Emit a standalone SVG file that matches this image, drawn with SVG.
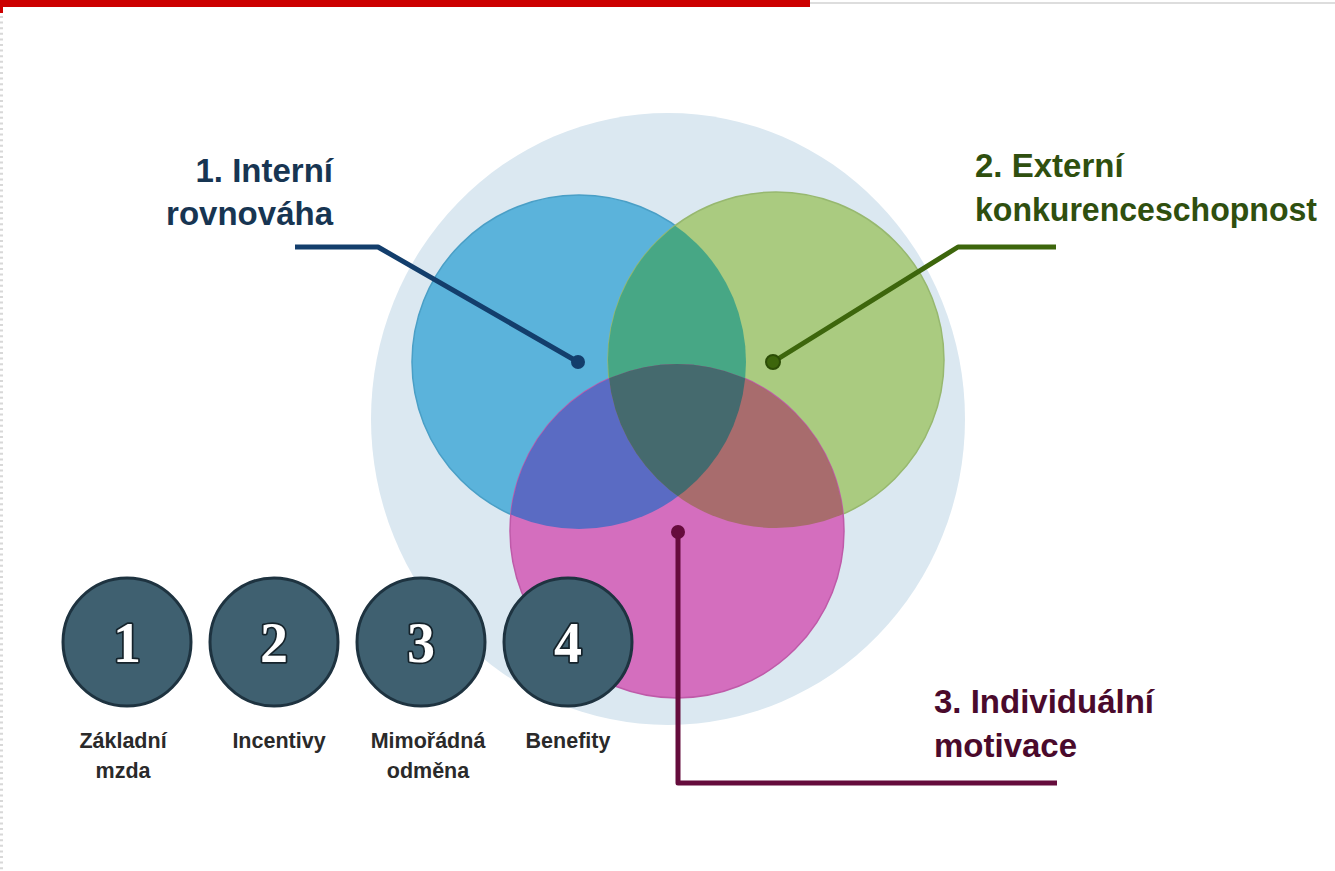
<svg xmlns="http://www.w3.org/2000/svg" width="1335" height="871" viewBox="0 0 1335 871">
<style>
.lbl{font-family:"Liberation Sans",Arial,sans-serif;font-weight:bold;font-size:33px}
.sub{font-family:"Liberation Sans",Arial,sans-serif;font-weight:bold;font-size:21.5px;fill:#2a2a2a;text-anchor:middle}
.num{font-family:"Liberation Serif","Times New Roman",serif;font-weight:bold;font-size:56px;fill:#ffffff;stroke:#15232b;stroke-width:3.5;paint-order:stroke;stroke-linejoin:round;text-anchor:middle}
.badge{fill:#3f6070;stroke:#1e3340;stroke-width:3}
</style>
<defs>
<clipPath id="cBlue"><circle cx="579" cy="362" r="167"/></clipPath>
<clipPath id="cGreen"><circle cx="776" cy="360" r="168"/></clipPath>
</defs>
<rect width="1335" height="871" fill="#ffffff"/>
<!-- page chrome -->
<rect x="0" y="0" width="810" height="7" fill="#cc0000"/>
<rect x="0" y="7" width="3" height="6" fill="#cc0000"/>
<rect x="810" y="2" width="525" height="2" fill="#dddddd"/>
<line x1="1.5" y1="16" x2="1.5" y2="871" stroke="#d8d8d8" stroke-width="3" stroke-dasharray="2 3.6"/>

<g id="outer">
<ellipse cx="668" cy="419" rx="297" ry="306" fill="#dbe8f1"/>
</g>
<g id="venn">
<circle id="circle-blue" cx="579" cy="362" r="167" fill="#5bb3db" stroke="#4a9fc6" stroke-width="1.5"/>
<circle id="circle-green" cx="776" cy="360" r="168" fill="#aacb80" stroke="#97b86f" stroke-width="1.5"/>
<circle id="circle-pink" cx="677" cy="531" r="167" fill="#d46ebe" stroke="#bf5aa9" stroke-width="1.5"/>
<circle cx="776" cy="360" r="168" fill="#47a785" clip-path="url(#cBlue)"/>
<circle cx="677" cy="531" r="167" fill="#5a6bc3" clip-path="url(#cBlue)"/>
<circle cx="677" cy="531" r="167" fill="#a86c6d" clip-path="url(#cGreen)"/>
<g clip-path="url(#cGreen)"><circle cx="677" cy="531" r="167" fill="#456a6e" clip-path="url(#cBlue)"/></g>
</g>

<g id="connectors" fill="none" stroke-width="5" stroke-linejoin="round">
<polyline points="295,247 378,247 578,362" stroke="#133e6c"/>
<circle cx="578" cy="362" r="7" fill="#133e6c" stroke="none"/>
<polyline points="1056,247 958,247 773,362" stroke="#3d660c"/>
<circle cx="773" cy="362" r="7" fill="#3d660c" stroke="#2c4d06" stroke-width="2"/>
<polyline points="678,532 678,783 1057,783" stroke="#650c3c"/>
<circle cx="678" cy="532" r="7" fill="#650c3c" stroke="none"/>
</g>

<g id="label-1">
<text class="lbl" x="333" y="182" text-anchor="end" fill="#173552">1. Interní</text>
<text class="lbl" x="333" y="225" text-anchor="end" fill="#173552">rovnováha</text>
</g>
<g id="label-2">
<text class="lbl" x="975" y="177" fill="#2f4f0f">2. Externí</text>
<text class="lbl" x="975" y="221" fill="#2f4f0f" textLength="342" lengthAdjust="spacingAndGlyphs">konkurenceschopnost</text>
</g>
<g id="label-3">
<text class="lbl" x="934" y="713" fill="#4a0a2c">3. Individuální</text>
<text class="lbl" x="934" y="757" fill="#4a0a2c">motivace</text>
</g>

<g id="badge-1">
<circle class="badge" cx="127" cy="642" r="64"/>
<text class="num" x="127" y="662">1</text>
<text class="sub" x="123" y="748">Základní</text>
<text class="sub" x="123" y="778">mzda</text>
</g>
<g id="badge-2">
<circle class="badge" cx="274" cy="642" r="64"/>
<text class="num" x="274" y="662">2</text>
<text class="sub" x="279" y="748">Incentivy</text>
</g>
<g id="badge-3">
<circle class="badge" cx="421" cy="642" r="64"/>
<text class="num" x="421" y="662">3</text>
<text class="sub" x="428" y="748">Mimořádná</text>
<text class="sub" x="428" y="778">odměna</text>
</g>
<g id="badge-4">
<circle class="badge" cx="568" cy="642" r="64"/>
<text class="num" x="568" y="662">4</text>
<text class="sub" x="568" y="748">Benefity</text>
</g>
</svg>
